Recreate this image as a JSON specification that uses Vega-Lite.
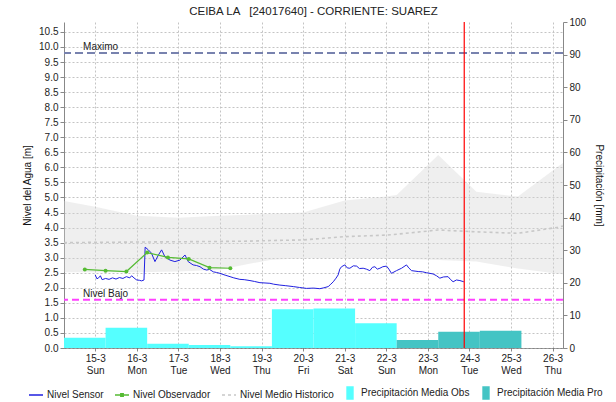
{
  "$schema": "https://vega.github.io/schema/vega-lite/v6.json",
  "width": 499,
  "height": 326,
  "autosize": {"type": "none"},
  "padding": {"left": 64, "top": 22, "right": 53, "bottom": 54},
  "title": {"text": "CEIBA LA \u00a0 [24017640] - CORRIENTE: SUAREZ", "fontSize": 11.5, "fontWeight": "normal", "color": "#222", "font": "Liberation Sans", "offset": 0},
  "config": {
    "font": "Liberation Sans",
    "view": {"stroke": null},
    "axis": {"labelFont": "Liberation Sans", "labelFontSize": 10, "labelColor": "#222", "titleFont": "Liberation Sans", "titleFontSize": 10, "titleFontWeight": "normal", "titleColor": "#111", "tickColor": "#888", "domainColor": "#888", "tickSize": 4, "labelPadding": 2}
  },
  "datasets": {
    "precip": [
      {"t0": "2015-03-14T06:00", "t1": "2015-03-15T06:00", "p": 3.16, "serie": "Precipitación Media Obs"},
      {"t0": "2015-03-15T06:00", "t1": "2015-03-16T06:00", "p": 6.23, "serie": "Precipitación Media Obs"},
      {"t0": "2015-03-16T06:00", "t1": "2015-03-17T06:00", "p": 1.3, "serie": "Precipitación Media Obs"},
      {"t0": "2015-03-17T06:00", "t1": "2015-03-18T06:00", "p": 0.9, "serie": "Precipitación Media Obs"},
      {"t0": "2015-03-18T06:00", "t1": "2015-03-19T06:00", "p": 0.5, "serie": "Precipitación Media Obs"},
      {"t0": "2015-03-19T06:00", "t1": "2015-03-20T06:00", "p": 11.9, "serie": "Precipitación Media Obs"},
      {"t0": "2015-03-20T06:00", "t1": "2015-03-21T06:00", "p": 12.1, "serie": "Precipitación Media Obs"},
      {"t0": "2015-03-21T06:00", "t1": "2015-03-22T06:00", "p": 7.57, "serie": "Precipitación Media Obs"},
      {"t0": "2015-03-22T06:00", "t1": "2015-03-23T06:00", "p": 2.45, "serie": "Precipitación Media Pro"},
      {"t0": "2015-03-23T06:00", "t1": "2015-03-24T06:00", "p": 5.0, "serie": "Precipitación Media Pro"},
      {"t0": "2015-03-24T06:00", "t1": "2015-03-25T06:00", "p": 5.3, "serie": "Precipitación Media Pro"}
    ],
    "hist": [
      {"t": "2015-03-14T06:00", "lo": 2.52, "hi": 4.88, "med": 3.50},
      {"t": "2015-03-15T00:00", "lo": 2.52, "hi": 4.69, "med": 3.51},
      {"t": "2015-03-16T00:00", "lo": 2.52, "hi": 4.39, "med": 3.52},
      {"t": "2015-03-17T00:00", "lo": 2.54, "hi": 4.33, "med": 3.53},
      {"t": "2015-03-18T00:00", "lo": 2.60, "hi": 4.39, "med": 3.54},
      {"t": "2015-03-18T17:00", "lo": 2.80, "hi": 4.43, "med": 3.55},
      {"t": "2015-03-19T05:00", "lo": 2.92, "hi": 4.46, "med": 3.57},
      {"t": "2015-03-20T00:00", "lo": 2.98, "hi": 4.50, "med": 3.59},
      {"t": "2015-03-21T00:00", "lo": 2.98, "hi": 4.90, "med": 3.70},
      {"t": "2015-03-22T00:00", "lo": 2.97, "hi": 5.03, "med": 3.75},
      {"t": "2015-03-22T06:00", "lo": 2.96, "hi": 5.08, "med": 3.78},
      {"t": "2015-03-23T06:00", "lo": 2.92, "hi": 6.41, "med": 3.92},
      {"t": "2015-03-24T04:00", "lo": 2.87, "hi": 5.19, "med": 3.86},
      {"t": "2015-03-25T04:00", "lo": 2.64, "hi": 5.03, "med": 3.81},
      {"t": "2015-03-26T03:00", "lo": 2.47, "hi": 6.02, "med": 4.01},
      {"t": "2015-03-26T06:00", "lo": 2.45, "hi": 6.15, "med": 4.05}
    ],
    "obs": [
      {"t": "2015-03-14T18:00", "v": 2.61},
      {"t": "2015-03-15T06:00", "v": 2.57},
      {"t": "2015-03-15T18:00", "v": 2.54},
      {"t": "2015-03-16T06:00", "v": 3.17},
      {"t": "2015-03-16T18:00", "v": 3.01},
      {"t": "2015-03-17T06:00", "v": 2.96},
      {"t": "2015-03-17T18:00", "v": 2.67},
      {"t": "2015-03-18T06:00", "v": 2.65}
    ],
    "refs": [
      {"ref": "Maximo", "v": 9.8},
      {"ref": "Nivel Bajo", "v": 1.6}
    ],
    "now": [
      {"t": "2015-03-23T21:00"}
    ],
    "sensor": [
      {"t": "2015-03-15T00:00", "v": 2.43},
      {"t": "2015-03-15T01:00", "v": 2.30},
      {"t": "2015-03-15T02:00", "v": 2.33},
      {"t": "2015-03-15T03:00", "v": 2.40},
      {"t": "2015-03-15T04:00", "v": 2.27},
      {"t": "2015-03-15T06:00", "v": 2.31},
      {"t": "2015-03-15T08:00", "v": 2.28},
      {"t": "2015-03-15T10:00", "v": 2.33},
      {"t": "2015-03-15T12:00", "v": 2.29},
      {"t": "2015-03-15T14:00", "v": 2.34},
      {"t": "2015-03-15T16:00", "v": 2.31},
      {"t": "2015-03-15T18:00", "v": 2.37},
      {"t": "2015-03-15T20:00", "v": 2.33},
      {"t": "2015-03-15T21:00", "v": 2.40},
      {"t": "2015-03-15T23:00", "v": 2.30},
      {"t": "2015-03-16T00:00", "v": 2.26},
      {"t": "2015-03-16T01:30", "v": 2.25},
      {"t": "2015-03-16T02:50", "v": 2.23},
      {"t": "2015-03-16T04:10", "v": 2.26},
      {"t": "2015-03-16T04:50", "v": 3.35},
      {"t": "2015-03-16T06:40", "v": 3.26},
      {"t": "2015-03-16T08:30", "v": 3.15},
      {"t": "2015-03-16T10:30", "v": 2.87},
      {"t": "2015-03-16T12:30", "v": 3.09},
      {"t": "2015-03-16T14:20", "v": 3.26},
      {"t": "2015-03-16T16:15", "v": 3.03},
      {"t": "2015-03-16T19:10", "v": 2.92},
      {"t": "2015-03-16T22:00", "v": 2.87},
      {"t": "2015-03-17T00:55", "v": 2.92},
      {"t": "2015-03-17T03:50", "v": 3.09},
      {"t": "2015-03-17T05:40", "v": 2.87},
      {"t": "2015-03-17T08:30", "v": 2.76},
      {"t": "2015-03-17T10:30", "v": 2.74},
      {"t": "2015-03-17T12:30", "v": 2.70},
      {"t": "2015-03-17T14:30", "v": 2.62},
      {"t": "2015-03-17T16:20", "v": 2.59},
      {"t": "2015-03-17T18:00", "v": 2.61},
      {"t": "2015-03-17T20:10", "v": 2.53},
      {"t": "2015-03-17T22:00", "v": 2.51},
      {"t": "2015-03-18T00:00", "v": 2.48},
      {"t": "2015-03-18T03:00", "v": 2.42},
      {"t": "2015-03-18T05:50", "v": 2.37},
      {"t": "2015-03-18T08:00", "v": 2.33},
      {"t": "2015-03-18T11:30", "v": 2.28},
      {"t": "2015-03-18T14:00", "v": 2.27},
      {"t": "2015-03-18T17:20", "v": 2.24},
      {"t": "2015-03-18T20:00", "v": 2.21},
      {"t": "2015-03-18T23:05", "v": 2.17},
      {"t": "2015-03-19T02:00", "v": 2.16},
      {"t": "2015-03-19T04:50", "v": 2.15},
      {"t": "2015-03-19T07:00", "v": 2.12},
      {"t": "2015-03-19T10:35", "v": 2.09},
      {"t": "2015-03-19T14:00", "v": 2.07},
      {"t": "2015-03-19T18:20", "v": 2.04},
      {"t": "2015-03-19T22:00", "v": 2.01},
      {"t": "2015-03-20T02:00", "v": 1.98},
      {"t": "2015-03-20T06:00", "v": 1.99},
      {"t": "2015-03-20T09:40", "v": 1.97},
      {"t": "2015-03-20T12:00", "v": 2.00},
      {"t": "2015-03-20T14:30", "v": 2.04},
      {"t": "2015-03-20T16:00", "v": 2.12},
      {"t": "2015-03-20T17:25", "v": 2.20},
      {"t": "2015-03-20T19:00", "v": 2.32},
      {"t": "2015-03-20T20:15", "v": 2.43},
      {"t": "2015-03-20T21:10", "v": 2.62},
      {"t": "2015-03-20T22:10", "v": 2.70},
      {"t": "2015-03-21T00:05", "v": 2.76},
      {"t": "2015-03-21T01:30", "v": 2.66},
      {"t": "2015-03-21T03:00", "v": 2.65},
      {"t": "2015-03-21T05:00", "v": 2.73},
      {"t": "2015-03-21T06:55", "v": 2.72},
      {"t": "2015-03-21T08:30", "v": 2.64},
      {"t": "2015-03-21T10:40", "v": 2.65},
      {"t": "2015-03-21T12:30", "v": 2.62},
      {"t": "2015-03-21T14:30", "v": 2.57},
      {"t": "2015-03-21T16:00", "v": 2.68},
      {"t": "2015-03-21T17:25", "v": 2.70},
      {"t": "2015-03-21T18:50", "v": 2.62},
      {"t": "2015-03-21T20:20", "v": 2.65},
      {"t": "2015-03-21T22:00", "v": 2.70},
      {"t": "2015-03-22T00:10", "v": 2.72},
      {"t": "2015-03-22T01:30", "v": 2.62},
      {"t": "2015-03-22T03:00", "v": 2.48},
      {"t": "2015-03-22T05:55", "v": 2.57},
      {"t": "2015-03-22T08:50", "v": 2.65},
      {"t": "2015-03-22T11:40", "v": 2.76},
      {"t": "2015-03-22T13:00", "v": 2.66},
      {"t": "2015-03-22T14:35", "v": 2.57},
      {"t": "2015-03-22T18:25", "v": 2.54},
      {"t": "2015-03-22T21:00", "v": 2.53},
      {"t": "2015-03-22T23:15", "v": 2.50},
      {"t": "2015-03-23T03:00", "v": 2.46},
      {"t": "2015-03-23T05:00", "v": 2.40},
      {"t": "2015-03-23T06:55", "v": 2.32},
      {"t": "2015-03-23T09:00", "v": 2.36},
      {"t": "2015-03-23T11:40", "v": 2.37},
      {"t": "2015-03-23T13:00", "v": 2.28},
      {"t": "2015-03-23T14:35", "v": 2.20},
      {"t": "2015-03-23T16:30", "v": 2.26},
      {"t": "2015-03-23T18:30", "v": 2.24},
      {"t": "2015-03-23T20:45", "v": 2.20}
    ]
  },
  "resolve": {"scale": {"y": "independent"}},
  "layer": [
    {
      "layer": [
        {
          "data": {"name": "precip"},
          "mark": {"type": "rect"},
          "encoding": {
            "x": {"field": "t0", "type": "temporal",
              "scale": {"domain": [{"year": 2015, "month": 3, "date": 14, "hours": 6}, {"year": 2015, "month": 3, "date": 26, "hours": 6}], "nice": false},
              "axis": {"title": null, "tickCount": {"interval": "day", "step": 1}, "labelExpr": "[timeFormat(datum.value, '%-d-%-m'), timeFormat(datum.value, '%a')]", "labelFlush": false, "labelOverlap": false, "labelLineHeight": 12, "labelBaseline": "top", "grid": true, "gridDash": [2, 2], "gridColor": "#C4C4C4", "domainColor": "#444", "domainDash": [1, 1], "tickSize": 3}},
            "x2": {"field": "t1"},
            "y": {"field": "p", "type": "quantitative",
              "scale": {"domain": [0, 100], "nice": false},
              "axis": {"orient": "right", "title": "Precipitación [mm]", "values": [0, 10, 20, 30, 40, 50, 60, 70, 80, 90, 100], "format": "d", "grid": false, "titlePadding": 8}},
            "y2": {"datum": 0},
            "color": {"field": "serie", "type": "nominal",
              "scale": {"domain": ["Nivel Sensor", "Nivel Observador", "Nivel Medio Historico", "Precipitación Media Obs", "Precipitación Media Pro"], "range": ["#2020E0", "#55BB33", "#C8C8C8", "#55FFFF", "#44C4C4"]},
              "legend": {"orient": "none", "legendX": -36, "legendY": 363, "direction": "horizontal", "title": null,
                "labelFont": "Liberation Sans", "labelFontSize": 10, "labelColor": "#222", "symbolSize": 196, "symbolStrokeWidth": 1.5, "columnPadding": 8, "labelOffset": 3, "symbolType": "stroke",
                "encode": {"symbols": {"update": {
                  "shape": {"signal": "indexof(datum.value, 'Precip') == 0 ? 'M-0.42,-0.85H0.42V0.85H-0.42Z' : (datum.value == 'Nivel Observador' ? 'M-1,0H1M-0.17,-0.17H0.17V0.17H-0.17Z' : 'M-1,0H1')"},
                  "fill": {"signal": "indexof(datum.value, 'Precip') == 0 || datum.value == 'Nivel Observador' ? scale('color', datum.value) : 'transparent'"},
                  "stroke": {"signal": "indexof(datum.value, 'Precip') == 0 ? 'transparent' : scale('color', datum.value)"},
                  "strokeDash": {"signal": "datum.value == 'Nivel Medio Historico' ? [3, 3] : [1, 0]"},
                  "opacity": {"value": 1}
                }}}}
            }
          }
        }
      ]
    },
    {
      "layer": [
        {
          "data": {"name": "hist"},
          "mark": {"type": "area", "color": "#D4D4D4", "opacity": 0.38},
          "encoding": {
            "x": {"field": "t", "type": "temporal"},
            "y": {"field": "lo", "type": "quantitative",
              "scale": {"domain": [0, 10.83], "nice": false, "zero": true},
              "axis": {"orient": "left", "title": "Nivel del Agua [m]", "values": [0, 0.5, 1, 1.5, 2, 2.5, 3, 3.5, 4, 4.5, 5, 5.5, 6, 6.5, 7, 7.5, 8, 8.5, 9, 9.5, 10, 10.5], "format": ".1f", "labelOverlap": false, "grid": true, "gridDash": [2, 2], "gridColor": "#C4C4C4", "titlePadding": 6}},
            "y2": {"field": "hi"}
          }
        },
        {
          "data": {"name": "hist"},
          "mark": {"type": "line", "strokeDash": [3, 3], "strokeWidth": 1.6},
          "encoding": {
            "x": {"field": "t", "type": "temporal"},
            "y": {"field": "med", "type": "quantitative",
              "axis": {"orient": "left", "title": "Nivel del Agua [m]", "values": [0, 0.5, 1, 1.5, 2, 2.5, 3, 3.5, 4, 4.5, 5, 5.5, 6, 6.5, 7, 7.5, 8, 8.5, 9, 9.5, 10, 10.5], "format": ".1f", "labelOverlap": false, "grid": true, "gridDash": [2, 2], "gridColor": "#C4C4C4", "titlePadding": 6}},
            "color": {"datum": "Nivel Medio Historico"}
          }
        },
        {
          "data": {"name": "sensor"},
          "mark": {"type": "line", "strokeWidth": 1},
          "encoding": {
            "x": {"field": "t", "type": "temporal"},
            "y": {"field": "v", "type": "quantitative",
              "axis": {"orient": "left", "title": "Nivel del Agua [m]", "values": [0, 0.5, 1, 1.5, 2, 2.5, 3, 3.5, 4, 4.5, 5, 5.5, 6, 6.5, 7, 7.5, 8, 8.5, 9, 9.5, 10, 10.5], "format": ".1f", "labelOverlap": false, "grid": true, "gridDash": [2, 2], "gridColor": "#C4C4C4", "titlePadding": 6}},
            "color": {"datum": "Nivel Sensor"}
          }
        },
        {
          "data": {"name": "obs"},
          "mark": {"type": "line", "strokeWidth": 1.2, "point": {"filled": true, "size": 16}},
          "encoding": {
            "x": {"field": "t", "type": "temporal"},
            "y": {"field": "v", "type": "quantitative",
              "axis": {"orient": "left", "title": "Nivel del Agua [m]", "values": [0, 0.5, 1, 1.5, 2, 2.5, 3, 3.5, 4, 4.5, 5, 5.5, 6, 6.5, 7, 7.5, 8, 8.5, 9, 9.5, 10, 10.5], "format": ".1f", "labelOverlap": false, "grid": true, "gridDash": [2, 2], "gridColor": "#C4C4C4", "titlePadding": 6}},
            "color": {"datum": "Nivel Observador"}
          }
        },
        {
          "data": {"name": "refs"},
          "transform": [{"filter": "datum.ref == 'Maximo'"}],
          "mark": {"type": "rule", "color": "#7882AE", "strokeWidth": 2, "strokeDash": [8, 4]},
          "encoding": {"y": {"field": "v", "type": "quantitative",
              "axis": {"orient": "left", "title": "Nivel del Agua [m]", "values": [0, 0.5, 1, 1.5, 2, 2.5, 3, 3.5, 4, 4.5, 5, 5.5, 6, 6.5, 7, 7.5, 8, 8.5, 9, 9.5, 10, 10.5], "format": ".1f", "labelOverlap": false, "grid": true, "gridDash": [2, 2], "gridColor": "#C4C4C4", "titlePadding": 6}}}
        },
        {
          "data": {"name": "refs"},
          "transform": [{"filter": "datum.ref == 'Nivel Bajo'"}],
          "mark": {"type": "rule", "color": "#FF40FF", "strokeWidth": 2, "strokeDash": [7, 4]},
          "encoding": {"y": {"field": "v", "type": "quantitative",
              "axis": {"orient": "left", "title": "Nivel del Agua [m]", "values": [0, 0.5, 1, 1.5, 2, 2.5, 3, 3.5, 4, 4.5, 5, 5.5, 6, 6.5, 7, 7.5, 8, 8.5, 9, 9.5, 10, 10.5], "format": ".1f", "labelOverlap": false, "grid": true, "gridDash": [2, 2], "gridColor": "#C4C4C4", "titlePadding": 6}}}
        },
        {
          "data": {"name": "now"},
          "mark": {"type": "rule", "color": "#FF0000", "strokeWidth": 1.2},
          "encoding": {"x": {"field": "t", "type": "temporal"}}
        },
        {
          "data": {"name": "refs"},
          "mark": {"type": "text", "align": "left", "baseline": "bottom", "dy": -1, "fontSize": 10, "color": "#222", "font": "Liberation Sans"},
          "encoding": {
            "x": {"datum": {"year": 2015, "month": 3, "date": 14, "hours": 17}, "type": "temporal"},
            "y": {"field": "v", "type": "quantitative",
              "axis": {"orient": "left", "title": "Nivel del Agua [m]", "values": [0, 0.5, 1, 1.5, 2, 2.5, 3, 3.5, 4, 4.5, 5, 5.5, 6, 6.5, 7, 7.5, 8, 8.5, 9, 9.5, 10, 10.5], "format": ".1f", "labelOverlap": false, "grid": true, "gridDash": [2, 2], "gridColor": "#C4C4C4", "titlePadding": 6}},
            "text": {"field": "ref"}
          }
        }
      ]
    }
  ]
}
